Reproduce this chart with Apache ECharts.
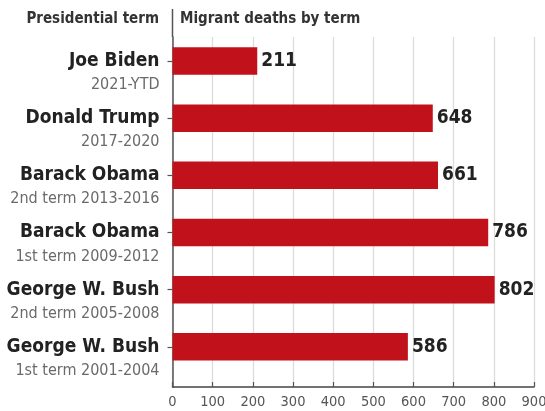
<!DOCTYPE html>
<html>
<head>
<meta charset="utf-8">
<script src="https://cdn.jsdelivr.net/npm/echarts@6/dist/echarts.min.js"></script>
<style>
html,body{margin:0;padding:0;background:#fff;}
#chart{width:545px;height:411px;}
</style>
</head>
<body>
<div id="chart"></div>
<script>
const names = ['Joe Biden', 'Donald Trump', 'Barack Obama', 'Barack Obama', 'George W. Bush', 'George W. Bush'];
const terms = ['2021-YTD', '2017-2020', '2nd term 2013-2016', '1st term 2009-2012', '2nd term 2005-2008', '1st term 2001-2004'];
const deaths = [211, 648, 661, 786, 802, 586];
const xMin = 0, xMax = 900, xStep = 100;
const headerLeft = 'Presidential term';
const headerRight = 'Migrant deaths by term';

const FONT = "'DejaVu Sans Condensed', 'Liberation Sans Narrow', sans-serif";
const chart = echarts.init(document.getElementById('chart'), null, {renderer: 'canvas'});

const option = {
  backgroundColor: '#ffffff',
  animation: false,
  title: [
    {text: headerLeft, right: 386, top: 12, padding: 0,
     textStyle: {fontFamily: FONT, fontSize: 15, fontWeight: 'bold', color: '#333'}},
    {text: headerRight, left: 180, top: 12, padding: 0,
     textStyle: {fontFamily: FONT, fontSize: 15, fontWeight: 'bold', color: '#333'}}
  ],
  graphic: [
    {type: 'line', shape: {x1: 172.5, y1: 9, x2: 172.5, y2: 37},
     style: {stroke: '#555', lineWidth: 1.5}, z: 10}
  ],
  grid: [
    {left: 172.5, right: 11, top: 32.4, height: 343, containLabel: false, outerBoundsMode: 'none'},
    {left: 172.5, right: 11, top: 37, bottom: 24, containLabel: false, outerBoundsMode: 'none'}
  ],
  xAxis: [
    {type: 'value', gridIndex: 0, min: xMin, max: xMax, interval: xStep, show: false},
    {type: 'value', gridIndex: 1, min: xMin, max: xMax, interval: xStep,
     axisLine: {show: true, lineStyle: {color: '#444', width: 1.5}},
     axisTick: {show: true, inside: true, length: 5, lineStyle: {color: '#555', width: 1.2}},
     splitLine: {show: true, lineStyle: {color: '#dcdcdc', width: 1.3}},
     axisLabel: {margin: 8, fontFamily: FONT, fontSize: 14.5, color: '#555'}}
  ],
  yAxis: [
    {type: 'category', gridIndex: 0, data: terms, inverse: true,
     axisLine: {show: false},
     axisTick: {show: true, alignWithLabel: true, length: 5, lineStyle: {color: '#555', width: 1.2}},
     splitLine: {show: false},
     axisLabel: {
       margin: 13,
       interval: 0,
       hideOverlap: false,
       formatter: function (value, index) {
         return '{e| }\n{a|' + names[index] + '}\n{b|' + value + '}';
       },
       rich: {
         e: {fontFamily: FONT, fontSize: 16, lineHeight: 24, align: 'right'},
         a: {fontFamily: FONT, fontSize: 19, fontWeight: 'bold', color: '#222', lineHeight: 24, align: 'right'},
         b: {fontFamily: FONT, fontSize: 16, color: '#6a6a6a', lineHeight: 24, align: 'right'}
       }
     }},
    {type: 'value', gridIndex: 1, min: 0, max: 1,
     axisLine: {show: true, lineStyle: {color: '#555', width: 1.5}},
     axisTick: {show: false}, axisLabel: {show: false}, splitLine: {show: false}}
  ],
  series: [
    {type: 'bar', xAxisIndex: 0, yAxisIndex: 0, data: deaths, barWidth: 27.5,
     itemStyle: {color: '#C1121C'},
     label: {show: true, position: 'right', distance: 4, fontFamily: FONT, fontSize: 19,
             fontWeight: 'bold', color: '#222'},
     z: 5}
  ]
};
chart.setOption(option);
</script>
</body>
</html>
